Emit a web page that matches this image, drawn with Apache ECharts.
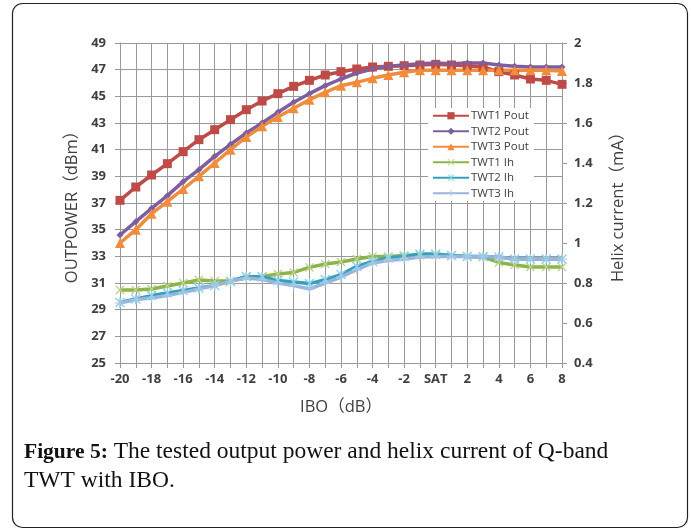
<!DOCTYPE html>
<html>
<head>
<meta charset="utf-8">
<script src="https://cdn.jsdelivr.net/npm/echarts@6/dist/echarts.min.js"></script>
<style>
html, body { margin: 0; padding: 0; background: #fff; }
#chart { width: 691px; height: 531px; }
</style>
</head>
<body>
<div id="chart"></div>
<script>
// IBO categories (dB)
var categories = ['-20','-19','-18','-17','-16','-15','-14','-13','-12','-11','-10','-9','-8','-7','-6','-5','-4','-3','-2','-1','SAT','1','2','3','4','5','6','7','8'];

// output power, dBm (left axis)
var twt1Pout = [37.2, 38.2, 39.1, 39.95, 40.85, 41.75, 42.5, 43.25, 44.0, 44.65, 45.2, 45.75, 46.2, 46.6, 46.85, 47.05, 47.2, 47.25, 47.3, 47.35, 47.4, 47.35, 47.3, 47.2, 46.85, 46.6, 46.3, 46.2, 45.9];
var twt2Pout = [34.6, 35.6, 36.6, 37.55, 38.6, 39.5, 40.5, 41.4, 42.25, 43.0, 43.8, 44.55, 45.2, 45.8, 46.3, 46.75, 47.05, 47.25, 47.35, 47.45, 47.5, 47.45, 47.5, 47.5, 47.35, 47.25, 47.2, 47.2, 47.2];
var twt3Pout = [34.0, 35.0, 36.2, 37.1, 38.05, 39.0, 40.0, 41.0, 41.95, 42.75, 43.45, 44.1, 44.75, 45.3, 45.8, 46.05, 46.35, 46.6, 46.8, 46.95, 46.95, 46.95, 46.95, 46.95, 46.95, 46.95, 46.95, 46.95, 46.9];

// helix current, mA (right axis)
var twt1Ih = [0.765, 0.765, 0.77, 0.785, 0.8, 0.815, 0.81, 0.81, 0.83, 0.833, 0.845, 0.853, 0.878, 0.895, 0.905, 0.92, 0.933, 0.933, 0.937, 0.94, 0.94, 0.937, 0.933, 0.93, 0.903, 0.89, 0.88, 0.88, 0.88];
var twt2Ih = [0.703, 0.72, 0.737, 0.75, 0.763, 0.775, 0.788, 0.808, 0.833, 0.83, 0.813, 0.805, 0.797, 0.817, 0.842, 0.883, 0.908, 0.925, 0.933, 0.945, 0.945, 0.937, 0.933, 0.933, 0.93, 0.92, 0.92, 0.92, 0.92];
var twt3Ih = [0.7, 0.717, 0.725, 0.737, 0.753, 0.77, 0.788, 0.808, 0.825, 0.817, 0.8, 0.787, 0.77, 0.8, 0.83, 0.867, 0.9, 0.913, 0.92, 0.93, 0.933, 0.933, 0.933, 0.933, 0.93, 0.917, 0.92, 0.92, 0.92];

var seriesNames = ['TWT1 Pout', 'TWT2 Pout', 'TWT3 Pout', 'TWT1 Ih', 'TWT2 Ih', 'TWT3 Ih'];

// marker shapes
var xMark = 'path://M0,1 L1,0 L10,9 L9,10 Z M9,0 L10,1 L1,10 L0,9 Z';
var starMark = 'path://M0,1 L1,0 L10,9 L9,10 Z M9,0 L10,1 L1,10 L0,9 Z M4.4,0 L5.6,0 L5.6,10 L4.4,10 Z';
var plusMark = 'path://M4.4,0 L5.6,0 L5.6,10 L4.4,10 Z M0,4.4 L10,4.4 L10,5.6 L0,5.6 Z';

var txt = '#404040';
var font = 'Open Sans, Noto Sans CJK SC, sans-serif';

function line(name, data, yIdx, color, symbol, size, markColor) {
	return {
		name: name,
		type: 'line',
		yAxisIndex: yIdx,
		data: data,
		symbol: symbol,
		symbolSize: size,
		showAllSymbol: true,
		lineStyle: { color: color, width: 3.5 },
		itemStyle: { color: markColor || color, borderWidth: 0 },
		emphasis: { disabled: true },
		animation: false
	};
}

var myChart = echarts.init(document.getElementById('chart'));
var option = {
	backgroundColor: '#fff',
	animation: false,
	grid: { left: 120, right: 129, top: 43, bottom: 168 },
	legend: {
		orient: 'vertical',
		left: 428,
		top: 108,
		data: seriesNames,
		itemWidth: 36,
		itemHeight: 9,
		itemGap: 4,
		padding: [2, 5, 2, 4],
		backgroundColor: '#fff',
		textStyle: { color: txt, fontSize: 11.5, fontFamily: font, padding: [0, 0, 0, -3] }
	},
	xAxis: {
		type: 'category',
		data: categories,
		boundaryGap: false,
		name: 'IBO（dB）',
		nameLocation: 'middle',
		nameGap: 36,
		nameTextStyle: { color: txt, fontSize: 16.5, fontFamily: font },
		axisLine: { lineStyle: { color: '#999' } },
		axisTick: { show: true, interval: 0, length: 5, lineStyle: { color: '#999' } },
		axisLabel: { interval: 1, color: txt, fontWeight: 'bold', fontSize: 13, fontFamily: font, margin: 10 },
		splitLine: { show: true, interval: 0, lineStyle: { color: '#999', width: 1 } }
	},
	yAxis: [{
		type: 'value',
		min: 25, max: 49, interval: 2,
		name: 'OUTPOWER（dBm）',
		nameLocation: 'middle',
		nameRotate: 90,
		nameGap: 37,
		nameTextStyle: { color: txt, fontSize: 16.5, fontFamily: font },
		axisLine: { show: true, lineStyle: { color: '#999' } },
		axisTick: { show: true, length: 5, lineStyle: { color: '#999' } },
		axisLabel: { color: txt, fontWeight: 'bold', fontSize: 13, fontFamily: font, margin: 14 },
		splitLine: { show: true, lineStyle: { color: '#999', width: 1 } }
	}, {
		type: 'value',
		min: 0.4, max: 2, interval: 0.2,
		name: 'Helix current（mA）',
		nameLocation: 'middle',
		nameRotate: 90,
		nameGap: 48,
		nameTextStyle: { color: txt, fontSize: 16.5, fontFamily: font },
		axisLine: { show: true, lineStyle: { color: '#999' } },
		axisTick: { show: true, length: 5, lineStyle: { color: '#999' } },
		axisLabel: { color: txt, fontWeight: 'bold', fontSize: 13, fontFamily: font, margin: 12 },
		splitLine: { show: false }
	}],
	series: [
		line('TWT1 Pout', twt1Pout, 0, '#BE4B48', 'rect', 9),
		line('TWT2 Pout', twt2Pout, 0, '#7D5FA0', 'diamond', 7),
		line('TWT3 Pout', twt3Pout, 0, '#F08C3C', 'triangle', 10),
		line('TWT1 Ih', twt1Ih, 1, '#8DB449', xMark, 9, '#B9D38A'),
		line('TWT2 Ih', twt2Ih, 1, '#31A2BC', starMark, 10, '#8FD3EA'),
		line('TWT3 Ih', twt3Ih, 1, '#9AB3DB', plusMark, 10, '#A9C4E8')
	],
	graphic: [{
		type: 'rect',
		shape: { x: 12.5, y: 3.5, width: 675, height: 524, r: 10 },
		style: { fill: 'none', stroke: '#222', lineWidth: 1.2 },
		silent: true
	}, {
		type: 'text',
		x: 24, y: 452,
		style: {
			text: '{b|Figure 5:} The tested output power and helix current of Q-band',
			font: '23.5px "Liberation Serif", serif',
			fill: '#111',
			verticalAlign: 'middle',
			rich: { b: { fontWeight: 'bold', fontSize: 21.5, fontFamily: 'Liberation Serif', fill: '#111' } }
		},
		silent: true
	}, {
		type: 'text',
		x: 24, y: 481,
		style: {
			text: 'TWT with IBO.',
			font: '23.5px "Liberation Serif", serif',
			fill: '#111',
			verticalAlign: 'middle'
		},
		silent: true
	}]
};
myChart.setOption(option);
</script>
</body>
</html>
